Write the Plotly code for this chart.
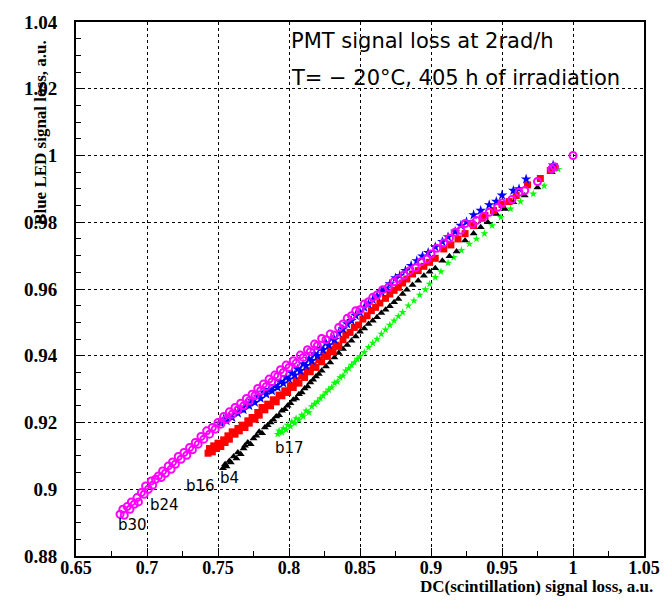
import plotly.graph_objects as go

# ---------------- data ----------------
b30_x = [0.681, 0.683, 0.684, 0.686, 0.688, 0.689, 0.691, 0.693, 0.694, 0.696,
         0.698, 0.699, 0.701, 0.703, 0.704, 0.706, 0.708, 0.710, 0.711, 0.713,
         0.715, 0.717, 0.718, 0.720, 0.722, 0.724, 0.726, 0.728, 0.730, 0.732,
         0.734, 0.736, 0.738, 0.740, 0.742, 0.744, 0.746, 0.748, 0.750, 0.752,
         0.754, 0.756, 0.758, 0.760, 0.762, 0.764, 0.766, 0.768, 0.770, 0.772,
         0.774, 0.776, 0.778, 0.780, 0.782, 0.784, 0.786, 0.788, 0.790, 0.792,
         0.794, 0.796, 0.798, 0.800, 0.803, 0.805, 0.808, 0.810, 0.813, 0.815,
         0.818, 0.820, 0.823, 0.826, 0.829, 0.832, 0.835, 0.838, 0.841, 0.844,
         0.847, 0.850, 0.853, 0.856, 0.859, 0.862, 0.866, 0.870, 0.874, 0.877,
         0.881, 0.885, 0.889, 0.893, 0.897, 0.900, 0.904, 0.909, 0.913, 0.917,
         0.921, 0.924, 0.929, 0.932, 0.937, 0.941, 0.947, 0.950, 0.957, 0.962,
         0.966, 0.975, 0.985, 0.987, 1.000]
b30_y = [0.8925, 0.8940, 0.8922, 0.8948, 0.8940, 0.8962, 0.8955, 0.8975, 0.8962, 0.8990,
         0.8985, 0.9010, 0.9000, 0.9025, 0.9012, 0.9030, 0.9040, 0.9035, 0.9055, 0.9048,
         0.9070, 0.9060, 0.9082, 0.9075, 0.9098, 0.9090, 0.9110, 0.9102, 0.9125, 0.9118,
         0.9140, 0.9135, 0.9158, 0.9150, 0.9175, 0.9165, 0.9185, 0.9180, 0.9200, 0.9195,
         0.9218, 0.9210, 0.9232, 0.9225, 0.9245, 0.9238, 0.9258, 0.9250, 0.9272, 0.9265,
         0.9285, 0.9280, 0.9302, 0.9295, 0.9315, 0.9308, 0.9330, 0.9322, 0.9342, 0.9338,
         0.9358, 0.9350, 0.9372, 0.9365, 0.9385, 0.9378, 0.9402, 0.9395, 0.9418, 0.9412,
         0.9435, 0.9430, 0.9452, 0.9448, 0.9465, 0.9462, 0.9485, 0.9495, 0.9512, 0.9520,
         0.9535, 0.9538, 0.9555, 0.9562, 0.9575, 0.9582, 0.9598, 0.9605, 0.9622, 0.9630,
         0.9642, 0.9655, 0.9664, 0.9682, 0.9690, 0.9705, 0.9722, 0.9738, 0.9752, 0.9770,
         0.9776, 0.9796, 0.9795, 0.9805, 0.9818, 0.9830, 0.9845, 0.9858, 0.9868, 0.9890,
         0.9895, 0.9922, 0.9960, 0.9966, 1.0000]

b16_x = [0.743, 0.744, 0.746, 0.747, 0.749, 0.750, 0.752, 0.754, 0.755, 0.757,
         0.758, 0.760, 0.762, 0.764, 0.765, 0.767, 0.769, 0.771, 0.772, 0.774,
         0.776, 0.778, 0.779, 0.781, 0.783, 0.785, 0.787, 0.789, 0.791, 0.793,
         0.795, 0.797, 0.799, 0.801, 0.803, 0.805, 0.807, 0.809, 0.811, 0.813,
         0.815, 0.817, 0.819, 0.821, 0.823, 0.825, 0.827, 0.829, 0.831, 0.833,
         0.835, 0.838, 0.840, 0.843, 0.846, 0.849, 0.852, 0.855, 0.858, 0.861,
         0.864, 0.868, 0.871, 0.874, 0.877, 0.880, 0.883, 0.887, 0.891, 0.895,
         0.899, 0.903, 0.909, 0.914, 0.919, 0.924, 0.930, 0.936, 0.938, 0.944,
         0.950, 0.955, 0.960, 0.968, 0.977, 0.984, 0.987]
b16_y = [0.9108, 0.9122, 0.9112, 0.9130, 0.9122, 0.9138, 0.9128, 0.9148, 0.9140, 0.9160,
         0.9150, 0.9172, 0.9165, 0.9182, 0.9175, 0.9192, 0.9185, 0.9205, 0.9198, 0.9215,
         0.9210, 0.9230, 0.9222, 0.9245, 0.9238, 0.9255, 0.9250, 0.9268, 0.9262, 0.9282,
         0.9280, 0.9295, 0.9290, 0.9310, 0.9305, 0.9325, 0.9318, 0.9340, 0.9335, 0.9355,
         0.9352, 0.9370, 0.9365, 0.9388, 0.9382, 0.9402, 0.9398, 0.9418, 0.9412, 0.9432,
         0.9428, 0.9448, 0.9462, 0.9470, 0.9485, 0.9492, 0.9510, 0.9520, 0.9535, 0.9545,
         0.9558, 0.9572, 0.9585, 0.9596, 0.9605, 0.9618, 0.9630, 0.9645, 0.9655, 0.9668,
         0.9680, 0.9692, 0.9720, 0.9732, 0.9750, 0.9766, 0.9790, 0.9812, 0.9820, 0.9835,
         0.9853, 0.9862, 0.9880, 0.9912, 0.9931, 0.9955, 0.9966]

b24_x = [0.752, 0.754, 0.756, 0.758, 0.760, 0.762, 0.764, 0.766, 0.768, 0.770,
         0.772, 0.774, 0.776, 0.778, 0.780, 0.782, 0.784, 0.786, 0.788, 0.790,
         0.792, 0.794, 0.796, 0.798, 0.800, 0.802, 0.804, 0.806, 0.808, 0.810,
         0.812, 0.814, 0.816, 0.818, 0.820, 0.822, 0.824, 0.826, 0.828, 0.830,
         0.832, 0.835, 0.838, 0.841, 0.844, 0.847, 0.850, 0.853, 0.856, 0.859,
         0.862, 0.865, 0.868, 0.871, 0.875, 0.878, 0.882, 0.886, 0.890, 0.894,
         0.898, 0.903, 0.908, 0.912, 0.917, 0.921, 0.925, 0.930, 0.935, 0.941,
         0.946, 0.950, 0.958, 0.962, 0.967, 0.986]
b24_y = [0.9198, 0.9210, 0.9205, 0.9220, 0.9215, 0.9232, 0.9228, 0.9242, 0.9238, 0.9255,
         0.9250, 0.9265, 0.9260, 0.9278, 0.9272, 0.9290, 0.9285, 0.9298, 0.9295, 0.9310,
         0.9305, 0.9322, 0.9318, 0.9335, 0.9330, 0.9348, 0.9342, 0.9360, 0.9355, 0.9375,
         0.9370, 0.9390, 0.9385, 0.9405, 0.9400, 0.9422, 0.9418, 0.9438, 0.9432, 0.9452,
         0.9448, 0.9468, 0.9480, 0.9495, 0.9505, 0.9520, 0.9530, 0.9545, 0.9555, 0.9568,
         0.9578, 0.9592, 0.9600, 0.9615, 0.9633, 0.9640, 0.9655, 0.9670, 0.9684, 0.9698,
         0.9709, 0.9726, 0.9742, 0.9756, 0.9772, 0.9790, 0.9801, 0.9822, 0.9835, 0.9852,
         0.9862, 0.9881, 0.9895, 0.9900, 0.9929, 0.9971]

b4_x = [0.7535, 0.755, 0.756, 0.758, 0.759, 0.761, 0.763, 0.764, 0.766, 0.768,
        0.769, 0.771, 0.773, 0.775, 0.777, 0.779, 0.781, 0.783, 0.785, 0.787,
        0.789, 0.791, 0.793, 0.795, 0.797, 0.799, 0.801, 0.803, 0.805, 0.807,
        0.809, 0.811, 0.813, 0.815, 0.817, 0.819, 0.821, 0.823, 0.826, 0.829,
        0.832, 0.835, 0.838, 0.841, 0.844, 0.847, 0.850, 0.853, 0.856, 0.859,
        0.862, 0.865, 0.868, 0.871, 0.874, 0.877, 0.880, 0.883, 0.887, 0.891,
        0.895, 0.899, 0.903, 0.908, 0.913, 0.918, 0.924, 0.930, 0.935, 0.940,
        0.946, 0.952, 0.958, 0.966, 0.975, 0.985]
b4_y = [0.9063, 0.9075, 0.9068, 0.9085, 0.9080, 0.9098, 0.9092, 0.9110, 0.9105, 0.9122,
        0.9130, 0.9140, 0.9135, 0.9152, 0.9160, 0.9172, 0.9168, 0.9185, 0.9192, 0.9200,
        0.9208, 0.9218, 0.9222, 0.9235, 0.9240, 0.9250, 0.9258, 0.9268, 0.9272, 0.9285,
        0.9290, 0.9302, 0.9308, 0.9320, 0.9328, 0.9338, 0.9345, 0.9355, 0.9368, 0.9380,
        0.9395, 0.9408, 0.9420, 0.9432, 0.9445, 0.9458, 0.9472, 0.9482, 0.9495, 0.9505,
        0.9515, 0.9528, 0.9538, 0.9548, 0.9560, 0.9570, 0.9585, 0.9598, 0.9612, 0.9625,
        0.9640, 0.9652, 0.9662, 0.9685, 0.9698, 0.9712, 0.9745, 0.9766, 0.9785, 0.9800,
        0.9825, 0.9840, 0.9860, 0.9880, 0.9904, 0.9950]

b17_x = [0.792, 0.793, 0.795, 0.796, 0.798, 0.799, 0.801, 0.802, 0.804, 0.805,
         0.807, 0.809, 0.810, 0.812, 0.814, 0.816, 0.818, 0.820, 0.822, 0.824,
         0.826, 0.828, 0.830, 0.832, 0.834, 0.836, 0.838, 0.840, 0.842, 0.844,
         0.846, 0.848, 0.850, 0.853, 0.856, 0.859, 0.862, 0.865, 0.868, 0.871,
         0.874, 0.877, 0.880, 0.884, 0.888, 0.892, 0.896, 0.899, 0.903, 0.907,
         0.912, 0.916, 0.9214, 0.927, 0.932, 0.9376, 0.943, 0.9492, 0.956, 0.963,
         0.972, 0.9797, 0.9896]
b17_y = [0.9165, 0.9175, 0.9170, 0.9182, 0.9178, 0.9192, 0.9188, 0.9202, 0.9198, 0.9212,
         0.9208, 0.9222, 0.9218, 0.9235, 0.9230, 0.9248, 0.9255, 0.9262, 0.9272, 0.9280,
         0.9290, 0.9298, 0.9305, 0.9318, 0.9322, 0.9335, 0.9340, 0.9355, 0.9362, 0.9372,
         0.9380, 0.9390, 0.9398, 0.9410, 0.9425, 0.9438, 0.9450, 0.9465, 0.9478, 0.9492,
         0.9505, 0.9518, 0.9530, 0.9550, 0.9565, 0.9582, 0.9598, 0.9615, 0.9635, 0.9652,
         0.9678, 0.9695, 0.9716, 0.9735, 0.9750, 0.9766, 0.9790, 0.9815, 0.9840, 0.9862,
         0.9885, 0.9909, 0.9959]

label_names = ["b30", "b24", "b16", "b4", "b17"]
label_x = [0.690, 0.712, 0.7375, 0.7583, 0.800]
label_y = [0.8894, 0.8953, 0.9010, 0.9035, 0.9124]

x_tickvals = [0.65, 0.70, 0.75, 0.80, 0.85, 0.90, 0.95, 1.00, 1.05]
x_ticktext = ["0.65", "0.7", "0.75", "0.8", "0.85", "0.9", "0.95", "1", "1.05"]
y_tickvals = [0.88, 0.90, 0.92, 0.94, 0.96, 0.98, 1.00, 1.02, 1.04]
y_ticktext = ["0.88", "0.9", "0.92", "0.94", "0.96", "0.98", "1", "1.02", "1.04"]

# ---------------- figure ----------------
fig = go.Figure()

fig.add_trace(go.Scatter(x=b17_x, y=b17_y, mode="markers",
                         marker=dict(symbol="star", size=6, color="#00ff00",
                                     line=dict(width=0))))
fig.add_trace(go.Scatter(x=b4_x, y=b4_y, mode="markers",
                         marker=dict(symbol="triangle-up", size=7, color="black",
                                     line=dict(width=0))))
fig.add_trace(go.Scatter(x=b16_x, y=b16_y, mode="markers",
                         marker=dict(symbol="square", size=7, color="#ff0000",
                                     line=dict(width=0))))
fig.add_trace(go.Scatter(x=b24_x, y=b24_y, mode="markers",
                         marker=dict(symbol="star", size=8, color="#0000ff",
                                     line=dict(width=0))))
fig.add_trace(go.Scatter(x=b30_x, y=b30_y, mode="markers",
                         marker=dict(symbol="circle-open", size=7, color="#ff00ff",
                                     line=dict(color="#ff00ff", width=2))))

thin = dict(family="DejaVu Sans", size=15, color="black")
for name, lx, ly in zip(label_names, label_x, label_y):
    fig.add_annotation(x=lx, y=ly, xref="x", yref="y", text=name, showarrow=False,
                       font=thin, xanchor="center", yanchor="middle")

head = dict(family="DejaVu Sans", size=21, color="black")
fig.add_annotation(x=0.8002, y=1.0344, xref="x", yref="y", text="PMT signal loss at 2rad/h",
                   showarrow=False, font=head, xanchor="left", yanchor="middle")
fig.add_annotation(x=0.8002, y=1.0231, xref="x", yref="y",
                   text="T= \u2212 20\u00b0C, 405 h of irradiation",
                   showarrow=False, font=head, xanchor="left", yanchor="middle")

serif = dict(family="Liberation Serif", size=17, color="black", weight="bold")
fig.add_annotation(x=-0.0635, y=0.794, xref="paper", yref="paper",
                   text="Blue LED signal loss, a.u.", textangle=-90, showarrow=False,
                   font=serif, xanchor="center", yanchor="middle")
fig.add_annotation(x=1.019, y=-0.0565, xref="paper", yref="paper",
                   text="DC(scintillation) signal loss, a.u.", showarrow=False,
                   font=serif, xanchor="right", yanchor="middle")

tickfont = dict(family="Liberation Serif", size=19, color="black", weight="bold")
axis_common = dict(showline=True, linewidth=2, linecolor="black", mirror=True,
                   showgrid=True, gridcolor="black", gridwidth=1, griddash="dot",
                   zeroline=False, ticks="inside", ticklen=8, tickwidth=1,
                   tickcolor="black")

fig.update_xaxes(range=[0.65, 1.05], tickmode="array", tickvals=x_tickvals,
                 ticktext=x_ticktext, ticklabelstandoff=-6,
                 tickfont=dict(family="Liberation Serif", size=18, color="black", weight="bold"),
                 minor=dict(dtick=0.025, tick0=0.65, ticks="inside", ticklen=5,
                            tickcolor="black", showgrid=False),
                 **axis_common)
fig.update_yaxes(range=[0.88, 1.04], tickmode="array", tickvals=y_tickvals,
                 ticktext=y_ticktext, ticklabelstandoff=13, tickfont=tickfont,
                 minor=dict(dtick=0.005, tick0=0.88, ticks="inside", ticklen=5,
                            tickcolor="black", showgrid=False),
                 **axis_common)

fig.update_layout(width=672, height=601, showlegend=False,
                  margin=dict(l=76, r=20, t=16, b=45),
                  plot_bgcolor="white", paper_bgcolor="white")

fig.write_html("out.html")
